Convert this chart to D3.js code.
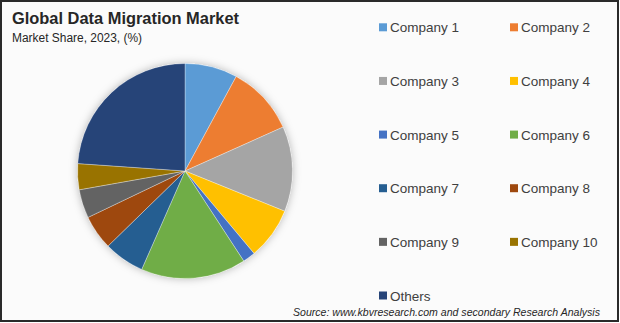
<!DOCTYPE html>
<html>
<head>
<meta charset="utf-8">
<script src="https://cdn.jsdelivr.net/npm/d3@7"></script>
<style>
  html, body { margin: 0; padding: 0; background: #fff; }
  svg { display: block; font-family: "Liberation Sans", Arial, sans-serif; }
</style>
</head>
<body>
<div id="chart"></div>
<script>
// Chart data
const companies = ['Company 1', 'Company 2', 'Company 3', 'Company 4', 'Company 5', 'Company 6',
                   'Company 7', 'Company 8', 'Company 9', 'Company 10', 'Others'];
const shares = [7.9, 10.4, 12.8, 7.8, 1.9, 15.8, 6.1, 5.2, 4.3, 3.9, 23.9];
const colors = ['#5b9bd5', '#ed7d31', '#a5a5a5', '#ffc000', '#4472c4', '#70ad47',
                '#255e91', '#9e480e', '#636363', '#997300', '#264478'];

const titleText = 'Global Data Migration Market';
const subtitleText = 'Market Share, 2023, (%)';
const sourceText = 'Source: www.kbvresearch.com and secondary Research Analysis';

const width = 620, height = 323;

const svg = d3.select('#chart')
    .append('svg')
    .attr('width', width)
    .attr('height', height);

// Soft shadow behind the pie
const defs = svg.append('defs');
const shadow = defs.append('filter')
    .attr('id', 'pie-shadow')
    .attr('x', '-20%').attr('y', '-20%')
    .attr('width', '140%').attr('height', '140%');
shadow.append('feDropShadow')
    .attr('dx', 0).attr('dy', 0)
    .attr('stdDeviation', 4)
    .attr('flood-color', '#000')
    .attr('flood-opacity', 0.28);

// Background and frame
svg.append('rect')
    .attr('x', 1).attr('y', 1)
    .attr('width', width - 3).attr('height', height - 3)
    .attr('fill', '#fbfbfb')
    .attr('stroke', '#2a2a2a')
    .attr('stroke-width', 2);

// Titles
svg.append('text')
    .attr('x', 12).attr('y', 24)
    .attr('font-size', 16)
    .attr('font-weight', 'bold')
    .attr('fill', '#262626')
    .attr('textLength', 227)
    .attr('lengthAdjust', 'spacingAndGlyphs')
    .text(titleText);

svg.append('text')
    .attr('x', 12).attr('y', 42)
    .attr('font-size', 12.5)
    .attr('fill', '#262626')
    .attr('textLength', 130)
    .attr('lengthAdjust', 'spacingAndGlyphs')
    .text(subtitleText);

// Pie
const cx = 185, cy = 171, radius = 107.5;

const pie = d3.pie()
    .value(d => d)
    .sort(null);

const arc = d3.arc()
    .innerRadius(0)
    .outerRadius(radius);

const pieGroup = svg.append('g')
    .attr('transform', `translate(${cx},${cy})`);

pieGroup.append('circle')
    .attr('r', radius)
    .attr('fill', '#fff')
    .attr('filter', 'url(#pie-shadow)');

pieGroup.selectAll('path')
    .data(pie(shares))
    .enter()
    .append('path')
    .attr('d', arc)
    .attr('fill', (d, i) => colors[i])
    .attr('stroke', 'rgba(255,255,255,0.45)')
    .attr('stroke-width', 0.7);

// Legend: two columns, six rows
const legendX = d3.scalePoint().domain([0, 1]).range([379, 510]);
const legendY = d3.scaleLinear().domain([0, 5]).range([27.3, 295.5]);

const legend = svg.append('g')
    .selectAll('g')
    .data(companies)
    .enter()
    .append('g')
    .attr('transform', (d, i) => `translate(${legendX(i % 2)},${legendY(Math.floor(i / 2))})`);

legend.append('rect')
    .attr('x', 0).attr('y', -4)
    .attr('width', 8).attr('height', 8)
    .attr('fill', (d, i) => colors[i]);

legend.append('text')
    .attr('x', 11).attr('y', 5)
    .attr('font-size', 13.5)
    .attr('fill', '#404040')
    .text(d => d);

// Source note
svg.append('text')
    .attr('x', 293).attr('y', 316)
    .attr('font-size', 11)
    .attr('font-style', 'italic')
    .attr('fill', '#262626')
    .attr('textLength', 307)
    .attr('lengthAdjust', 'spacingAndGlyphs')
    .text(sourceText);
</script>
</body>
</html>
